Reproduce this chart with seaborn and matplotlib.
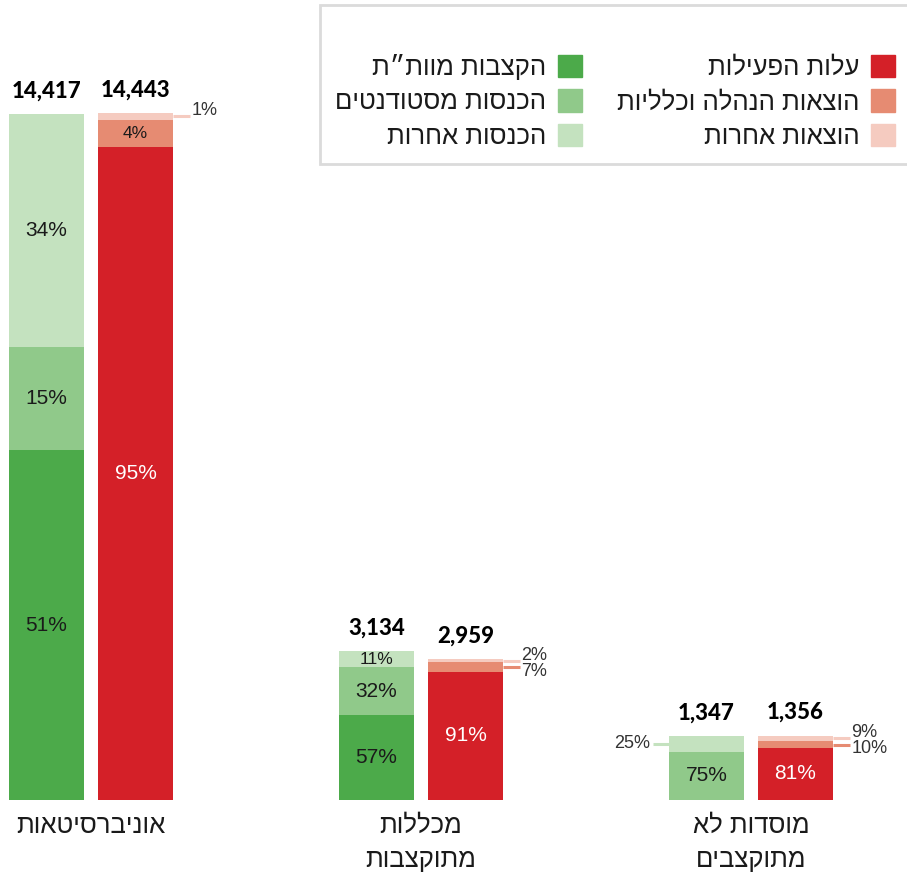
import numpy as np
import matplotlib
matplotlib.use("Agg")
import matplotlib.pyplot as plt
import seaborn as sns
from matplotlib.patches import Patch

# data
groups = ["אוניברסיטאות", "מכללות\nמתוקצבות", "מוסדות לא\nמתוקצבים"]
income_totals = [14417, 3134, 1347]
expense_totals = [14443, 2959, 1356]

income_names = ["הקצבות מוות״ת", "הכנסות מסטודנטים", "הכנסות אחרות"]
income_shares = [[51, 57, 0],   # budget allocation
                 [15, 32, 75],  # students
                 [34, 11, 25]]  # other

expense_names = ["עלות הפעילות", "הוצאות הנהלה וכלליות", "הוצאות אחרות"]
expense_shares = [[95, 91, 81],  # activity
                  [4, 7, 10],    # admin
                  [1, 2, 9]]     # other

green = ["#4caa4a", "#90c98a", "#c4e2bf"]
red = ["#d42028", "#e68b72", "#f5cbc0"]
txt_on = {"#4caa4a": "#1a1a1a", "#90c98a": "#1a1a1a", "#c4e2bf": "#1a1a1a",
          "#d42028": "white", "#e68b72": "#1a1a1a", "#f5cbc0": "#1a1a1a"}


def rtl(s):
    return "\n".join(line[::-1] for line in s.split("\n"))


sns.set_theme(style="white")
heb = ["Liberation Sans", "DejaVu Sans"]
pct_font = ["Liberation Sans", "DejaVu Sans"]
plt.rcParams["font.family"] = heb

fig = plt.figure(figsize=(9.07, 8.72), dpi=100)
ax = fig.add_axes([0, 72 / 872, 1, (800 - 113) / 872])
ax.set_xlim(-0.2758, 2.4727)
ax.set_ylim(0, max(expense_totals))
ax.axis("off")

x = np.arange(len(groups))
off = 0.135
width = 0.227


def spread_small(shares, j):
    # two small segments stacked at the top -> spread their labels
    return sum(1 for s in shares[1:] if s[j] < 12) >= 2


def draw_stack(xpos, totals, shares, colors, side):
    bottom = np.zeros(len(totals))
    n = len(shares)
    for i, (sh, col) in enumerate(zip(shares, colors)):
        h = np.array(totals) * np.array(sh) / 100
        ax.bar(xpos, h, bottom=bottom, width=width, color=col, linewidth=0)
        for j in range(len(totals)):
            if sh[j] == 0:
                continue
            yc = bottom[j] + h[j] / 2
            if h[j] > 340:
                fs = 15 if h[j] > 600 else 12.5
                ax.text(xpos[j], yc, f"{sh[j]}%", ha="center", va="center",
                        fontsize=fs, color=txt_on[col], family=pct_font)
            else:
                # small segment: leader line out to the side
                edge = xpos[j] + side * width / 2
                end = edge + side * 0.05
                ax.plot([edge, end], [yc, yc], color=col, lw=2.2,
                        solid_capstyle="butt", clip_on=False)
                dy = 0
                if spread_small(shares, j):
                    dy = 4 if i == n - 1 else -3
                ax.annotate(f"{sh[j]}%", xy=(end, yc),
                            xytext=(side * 1.5, dy), textcoords="offset points",
                            ha="left" if side > 0 else "right", va="center",
                            fontsize=13, color="#333333", family=pct_font)
        bottom += h
    for j, t in enumerate(totals):
        ax.annotate(f"{t:,}", xy=(xpos[j], t), xytext=(0, 9),
                    textcoords="offset points", ha="center", va="bottom",
                    fontsize=16, fontweight="black", color="black",
                    family=["Lato", "DejaVu Sans"])


draw_stack(x - off, income_totals, income_shares, green, -1)
draw_stack(x + off, expense_totals, expense_shares, red, 1)

for j, g in enumerate(groups):
    ax.annotate(rtl(g), xy=(x[j], 0), xytext=(0, -10), textcoords="offset points",
                ha="center", va="top", fontsize=18.5, color="#1a1a1a",
                linespacing=1.55)

handles = [Patch(color=c) for c in green + red]
labels = [rtl(s) for s in income_names + expense_names]
leg = fig.legend(handles, labels, ncol=2, loc="upper right",
                 bbox_to_anchor=(1.004, 1 - 5 / 872), borderaxespad=0,
                 markerfirst=False, fontsize=18.5, title=" ", title_fontsize=19,
                 handlelength=0.95, handleheight=0.95, handletextpad=0.45,
                 labelspacing=0.37, columnspacing=1.35, borderpad=0.6,
                 frameon=True, fancybox=False)
leg.get_frame().set_edgecolor("#d2d2d2")
leg.get_frame().set_linewidth(2)
for t in leg.get_texts():
    t.set_color("#1a1a1a")

fig.savefig("out.png", dpi=100)
